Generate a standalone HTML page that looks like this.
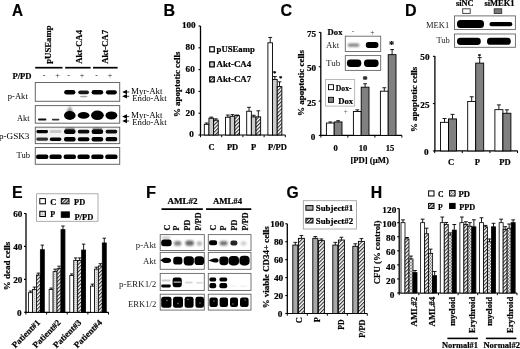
<!DOCTYPE html><html><head><meta charset="utf-8"><style>html,body{margin:0;padding:0;background:#fff;overflow:hidden}svg{display:block}text[font-weight=bold]{stroke:#000;stroke-width:0.2px}</style></head><body>
<svg width="520" height="349" viewBox="0 0 520 349" font-family='"Liberation Serif", serif'>
<defs>
<filter id="b03" x="-50%" y="-50%" width="200%" height="200%"><feGaussianBlur stdDeviation="0.3"/></filter>
<filter id="b05" x="-50%" y="-50%" width="200%" height="200%"><feGaussianBlur stdDeviation="0.5"/></filter>
<filter id="b06" x="-50%" y="-50%" width="200%" height="200%"><feGaussianBlur stdDeviation="0.6"/></filter>
<filter id="b08" x="-50%" y="-50%" width="200%" height="200%"><feGaussianBlur stdDeviation="0.8"/></filter>
<filter id="b10" x="-50%" y="-50%" width="200%" height="200%"><feGaussianBlur stdDeviation="1.0"/></filter>
<filter id="b12" x="-50%" y="-50%" width="200%" height="200%"><feGaussianBlur stdDeviation="1.2"/></filter>
<filter id="b15" x="-50%" y="-50%" width="200%" height="200%"><feGaussianBlur stdDeviation="1.5"/></filter>
<pattern id="hatch" patternUnits="userSpaceOnUse" width="2.6" height="2.6" patternTransform="rotate(45)"><rect width="2.6" height="2.6" fill="#fff"/><rect width="1.1" height="2.6" fill="#333"/></pattern>
<pattern id="hatchd" patternUnits="userSpaceOnUse" width="2.4" height="2.4" patternTransform="rotate(45)"><rect width="2.4" height="2.4" fill="#fff"/><rect width="1.2" height="2.4" fill="#222"/></pattern>
<pattern id="dots" patternUnits="userSpaceOnUse" width="2" height="2"><rect width="2" height="2" fill="#e2e2e2"/><rect width="1" height="1" fill="#b4b4b4"/></pattern>
<pattern id="circ" patternUnits="userSpaceOnUse" width="3" height="3"><rect width="3" height="3" fill="#fff"/><circle cx="1.5" cy="1.5" r="1" fill="none" stroke="#333" stroke-width="0.6"/></pattern>
<filter id="gblur" x="0" y="0" width="520" height="349" filterUnits="userSpaceOnUse"><feGaussianBlur stdDeviation="0.32"/></filter>
</defs>
<rect width="520" height="349" fill="#fff"/>
<g filter="url(#gblur)">
<text x="12.1" y="15.9" font-size="16" font-weight="bold" font-family='"Liberation Sans", sans-serif' textLength="11" lengthAdjust="spacingAndGlyphs">A</text>
<text x="51" y="63.8" font-size="7.9" font-weight="bold" transform="rotate(-90 51 63.8)" textLength="38.4" lengthAdjust="spacingAndGlyphs">pUSEamp</text>
<text x="81.8" y="63.8" font-size="7.9" font-weight="bold" transform="rotate(-90 81.8 63.8)" textLength="33.8" lengthAdjust="spacingAndGlyphs">Akt-CA4</text>
<text x="107.6" y="63.8" font-size="7.9" font-weight="bold" transform="rotate(-90 107.6 63.8)" textLength="33.8" lengthAdjust="spacingAndGlyphs">Akt-CA7</text>
<line x1="35.2" y1="67.7" x2="62.5" y2="67.7" stroke="#000" stroke-width="1.7"/>
<line x1="65.2" y1="67.7" x2="90.6" y2="67.7" stroke="#000" stroke-width="1.7"/>
<line x1="93" y1="67.7" x2="117.6" y2="67.7" stroke="#000" stroke-width="1.7"/>
<text x="12.4" y="78.6" font-size="8.4" font-weight="bold" textLength="19.1" lengthAdjust="spacingAndGlyphs">P/PD</text>
<text x="44.2" y="77.6" font-size="8" text-anchor="middle" fill="#222">-</text>
<text x="57.6" y="77.6" font-size="8" text-anchor="middle" fill="#222">+</text>
<text x="68.6" y="77.6" font-size="8" text-anchor="middle" fill="#222">-</text>
<text x="82" y="77.6" font-size="8" text-anchor="middle" fill="#222">+</text>
<text x="96.6" y="77.6" font-size="8" text-anchor="middle" fill="#222">-</text>
<text x="110" y="77.6" font-size="8" text-anchor="middle" fill="#222">+</text>
<rect x="35.3" y="82.5" width="84.4" height="18.8" fill="none" stroke="#666" stroke-width="1"/>
<rect x="35.3" y="105.6" width="84.4" height="17.6" fill="none" stroke="#666" stroke-width="1"/>
<rect x="35.3" y="127.2" width="84.4" height="16.4" fill="none" stroke="#666" stroke-width="1"/>
<rect x="35.3" y="147.5" width="84.4" height="16.8" fill="none" stroke="#666" stroke-width="1"/>
<text x="27.8" y="98.6" font-size="8.6" text-anchor="end" textLength="20" lengthAdjust="spacingAndGlyphs">p-Akt</text>
<text x="29.6" y="120.7" font-size="8.6" text-anchor="end" textLength="12.5" lengthAdjust="spacingAndGlyphs">Akt</text>
<text x="29.4" y="138.6" font-size="8.6" text-anchor="end" textLength="30.5" lengthAdjust="spacingAndGlyphs">p-GSK3</text>
<text x="30" y="158.2" font-size="8.6" text-anchor="end" textLength="13.4" lengthAdjust="spacingAndGlyphs">Tub</text>
<rect x="64.2" y="90" width="11.2" height="4.6" rx="2.3" fill="#000" fill-opacity="1" filter="url(#b05)"/>
<rect x="78.2" y="90.4" width="10.8" height="3.8" rx="1.9" fill="#000" fill-opacity="0.9" filter="url(#b05)"/>
<rect x="91.6" y="90" width="11.6" height="4.6" rx="2.3" fill="#000" fill-opacity="1" filter="url(#b05)"/>
<rect x="105.9" y="90.2" width="11" height="4.2" rx="2.1" fill="#000" fill-opacity="1" filter="url(#b05)"/>
<ellipse cx="83.6" cy="96.6" rx="4" ry="0.8" fill="#000" fill-opacity="0.35" filter="url(#b06)"/>
<rect x="38" y="118.6" width="8.4" height="2" rx="1" fill="#000" fill-opacity="0.95" filter="url(#b05)"/>
<rect x="51.8" y="118.8" width="7.6" height="1.6" rx="0.8" fill="#000" fill-opacity="0.8" filter="url(#b05)"/>
<ellipse cx="69.8" cy="115.4" rx="5.8" ry="4.5" fill="#000" fill-opacity="1" filter="url(#b06)"/>
<path d="M69.8 106.0 L66.2 112.5 L73.4 112.5 z" fill="#000" fill-opacity="0.45" filter="url(#b10)"/>
<ellipse cx="83.6" cy="115.4" rx="5.9" ry="3.3" fill="#000" fill-opacity="1" filter="url(#b05)"/>
<ellipse cx="97.4" cy="115.3" rx="6.4" ry="4.8" fill="#000" fill-opacity="1" filter="url(#b05)"/>
<ellipse cx="111.4" cy="115.4" rx="5.9" ry="4" fill="#000" fill-opacity="1" filter="url(#b05)"/>
<rect x="36.4" y="130" width="11.6" height="3.2" rx="1.45" fill="#000" fill-opacity="1" filter="url(#b05)"/>
<rect x="36.4" y="137.6" width="11.6" height="3.2" rx="1.45" fill="#000" fill-opacity="0.8" filter="url(#b05)"/>
<rect x="49.8" y="130.1" width="11.6" height="3" rx="1.36" fill="#000" fill-opacity="0.18" filter="url(#b05)"/>
<rect x="49.8" y="137.4" width="11.6" height="3.6" rx="1.64" fill="#000" fill-opacity="1" filter="url(#b05)"/>
<rect x="64" y="129.3" width="11.6" height="4.6" rx="2.09" fill="#000" fill-opacity="1" filter="url(#b05)"/>
<rect x="64" y="137" width="11.6" height="4.4" rx="2" fill="#000" fill-opacity="1" filter="url(#b05)"/>
<rect x="77.8" y="129.8" width="11.6" height="3.6" rx="1.64" fill="#000" fill-opacity="0.95" filter="url(#b05)"/>
<rect x="77.8" y="137.2" width="11.6" height="4" rx="1.82" fill="#000" fill-opacity="1" filter="url(#b05)"/>
<rect x="91.6" y="129.2" width="11.6" height="4.8" rx="2.18" fill="#000" fill-opacity="1" filter="url(#b05)"/>
<rect x="91.6" y="136.9" width="11.6" height="4.6" rx="2.09" fill="#000" fill-opacity="1" filter="url(#b05)"/>
<rect x="105.6" y="129.8" width="11.6" height="3.6" rx="1.64" fill="#000" fill-opacity="0.95" filter="url(#b05)"/>
<rect x="105.6" y="137.1" width="11.6" height="4.2" rx="1.91" fill="#000" fill-opacity="1" filter="url(#b05)"/>
<ellipse cx="69.8" cy="128.4" rx="5" ry="1" fill="#000" fill-opacity="0.35" filter="url(#b07)"/>
<ellipse cx="97.4" cy="128.4" rx="5" ry="1" fill="#000" fill-opacity="0.35" filter="url(#b07)"/>
<rect x="36" y="128" width="83" height="14" fill="#000" fill-opacity="0.05"/>
<rect x="36" y="154.5" width="12.4" height="4.6" rx="2.2" fill="#000" fill-opacity="1" filter="url(#b05)"/>
<rect x="49.4" y="154.5" width="12.4" height="4.6" rx="2.2" fill="#000" fill-opacity="1" filter="url(#b05)"/>
<rect x="63.6" y="154.5" width="12.4" height="4.6" rx="2.2" fill="#000" fill-opacity="1" filter="url(#b05)"/>
<rect x="77.4" y="154.5" width="12.4" height="4.6" rx="2.2" fill="#000" fill-opacity="1" filter="url(#b05)"/>
<rect x="91.2" y="154.5" width="12.4" height="4.6" rx="2.2" fill="#000" fill-opacity="1" filter="url(#b05)"/>
<rect x="105.2" y="154.5" width="12.4" height="4.6" rx="2.2" fill="#000" fill-opacity="1" filter="url(#b05)"/>
<path d="M122.2 92 l4.8 -2.3 v4.6 z" fill="#000"/>
<line x1="126.5" y1="92" x2="129.2" y2="92" stroke="#333" stroke-width="1"/>
<path d="M122.2 96.3 l4.8 -2.3 v4.6 z" fill="#000"/>
<line x1="126.5" y1="96.3" x2="129.2" y2="96.3" stroke="#333" stroke-width="1"/>
<path d="M122.2 116.6 l4.8 -2.3 v4.6 z" fill="#000"/>
<line x1="126.5" y1="116.6" x2="129.2" y2="116.6" stroke="#333" stroke-width="1"/>
<path d="M122.2 121 l4.8 -2.3 v4.6 z" fill="#000"/>
<line x1="126.5" y1="121" x2="129.2" y2="121" stroke="#333" stroke-width="1"/>
<text x="131" y="93.5" font-size="8.4" textLength="31.5" lengthAdjust="spacingAndGlyphs">Myr-Akt</text>
<text x="132.2" y="100.5" font-size="8.4" textLength="34.4" lengthAdjust="spacingAndGlyphs">Endo-Akt</text>
<text x="131" y="118" font-size="8.4" textLength="31.5" lengthAdjust="spacingAndGlyphs">Myr-Akt</text>
<text x="132.2" y="125" font-size="8.4" textLength="34.4" lengthAdjust="spacingAndGlyphs">Endo-Akt</text>
<text x="163.6" y="16.3" font-size="16" font-weight="bold" font-family='"Liberation Sans", sans-serif' textLength="11.6" lengthAdjust="spacingAndGlyphs">B</text>
<line x1="200.5" y1="26" x2="200.5" y2="135" stroke="#000" stroke-width="1.3"/>
<line x1="198.5" y1="135" x2="200.5" y2="135" stroke="#000" stroke-width="1.1"/>
<text x="193.9" y="137.35" font-size="8.2" font-weight="bold" text-anchor="end" textLength="4.59" lengthAdjust="spacingAndGlyphs">0</text>
<line x1="198.5" y1="113.2" x2="200.5" y2="113.2" stroke="#000" stroke-width="1.1"/>
<text x="194.8" y="115.55" font-size="8.2" font-weight="bold" text-anchor="end" textLength="9.18" lengthAdjust="spacingAndGlyphs">20</text>
<line x1="198.5" y1="91.4" x2="200.5" y2="91.4" stroke="#000" stroke-width="1.1"/>
<text x="194.8" y="93.75" font-size="8.2" font-weight="bold" text-anchor="end" textLength="9.18" lengthAdjust="spacingAndGlyphs">40</text>
<line x1="198.5" y1="69.6" x2="200.5" y2="69.6" stroke="#000" stroke-width="1.1"/>
<text x="194.8" y="71.95" font-size="8.2" font-weight="bold" text-anchor="end" textLength="9.18" lengthAdjust="spacingAndGlyphs">60</text>
<line x1="198.5" y1="47.8" x2="200.5" y2="47.8" stroke="#000" stroke-width="1.1"/>
<text x="194.8" y="50.15" font-size="8.2" font-weight="bold" text-anchor="end" textLength="9.18" lengthAdjust="spacingAndGlyphs">80</text>
<line x1="198.5" y1="26" x2="200.5" y2="26" stroke="#000" stroke-width="1.1"/>
<text x="195.7" y="28.35" font-size="8.2" font-weight="bold" text-anchor="end" textLength="13.78" lengthAdjust="spacingAndGlyphs">100</text>
<line x1="199.9" y1="135" x2="285.4" y2="135" stroke="#000" stroke-width="1.2"/>
<line x1="200.5" y1="135" x2="200.5" y2="137.2" stroke="#000" stroke-width="1"/>
<line x1="221.7" y1="135" x2="221.7" y2="137.2" stroke="#000" stroke-width="1"/>
<line x1="242.9" y1="135" x2="242.9" y2="137.2" stroke="#000" stroke-width="1"/>
<line x1="264.1" y1="135" x2="264.1" y2="137.2" stroke="#000" stroke-width="1"/>
<line x1="285.3" y1="135" x2="285.3" y2="137.2" stroke="#000" stroke-width="1"/>
<text x="179.9" y="84.3" font-size="8.6" font-weight="bold" text-anchor="middle" transform="rotate(-90 179.9 84.3)" textLength="65.6" lengthAdjust="spacingAndGlyphs">% apoptotic cells</text>
<rect x="204.3" y="124.32" width="4.65" height="10.68" fill="#fff" stroke="#000" stroke-width="0.9"/>
<line x1="206.62" y1="124.32" x2="206.62" y2="123.01" stroke="#000" stroke-width="0.9"/>
<line x1="204.72" y1="123.01" x2="208.52" y2="123.01" stroke="#000" stroke-width="0.9"/>
<rect x="208.95" y="118.21" width="4.65" height="16.79" fill="#cbcbcb" stroke="#000" stroke-width="0.9"/>
<line x1="211.27" y1="118.21" x2="211.27" y2="117.12" stroke="#000" stroke-width="0.9"/>
<line x1="209.37" y1="117.12" x2="213.17" y2="117.12" stroke="#000" stroke-width="0.9"/>
<rect x="213.6" y="120.18" width="4.65" height="14.82" fill="url(#hatch)" stroke="#000" stroke-width="0.9"/>
<line x1="215.92" y1="120.18" x2="215.92" y2="118.87" stroke="#000" stroke-width="0.9"/>
<line x1="214.02" y1="118.87" x2="217.82" y2="118.87" stroke="#000" stroke-width="0.9"/>
<rect x="225.5" y="117.23" width="4.65" height="17.77" fill="#fff" stroke="#000" stroke-width="0.9"/>
<line x1="227.82" y1="117.23" x2="227.82" y2="115.05" stroke="#000" stroke-width="0.9"/>
<line x1="225.92" y1="115.05" x2="229.72" y2="115.05" stroke="#000" stroke-width="0.9"/>
<rect x="230.15" y="116.25" width="4.65" height="18.75" fill="#cbcbcb" stroke="#000" stroke-width="0.9"/>
<line x1="232.47" y1="116.25" x2="232.47" y2="114.62" stroke="#000" stroke-width="0.9"/>
<line x1="230.57" y1="114.62" x2="234.37" y2="114.62" stroke="#000" stroke-width="0.9"/>
<rect x="234.8" y="115.6" width="4.65" height="19.4" fill="url(#hatch)" stroke="#000" stroke-width="0.9"/>
<line x1="237.12" y1="115.6" x2="237.12" y2="115.05" stroke="#000" stroke-width="0.9"/>
<line x1="235.22" y1="115.05" x2="239.02" y2="115.05" stroke="#000" stroke-width="0.9"/>
<rect x="246.7" y="111.24" width="4.65" height="23.76" fill="#fff" stroke="#000" stroke-width="0.9"/>
<line x1="249.02" y1="111.24" x2="249.02" y2="107.31" stroke="#000" stroke-width="0.9"/>
<line x1="247.12" y1="107.31" x2="250.92" y2="107.31" stroke="#000" stroke-width="0.9"/>
<rect x="251.35" y="116.91" width="4.65" height="18.09" fill="#cbcbcb" stroke="#000" stroke-width="0.9"/>
<line x1="253.67" y1="116.91" x2="253.67" y2="115.27" stroke="#000" stroke-width="0.9"/>
<line x1="251.77" y1="115.27" x2="255.57" y2="115.27" stroke="#000" stroke-width="0.9"/>
<rect x="256" y="116.91" width="4.65" height="18.09" fill="url(#hatch)" stroke="#000" stroke-width="0.9"/>
<line x1="258.32" y1="116.91" x2="258.32" y2="110.8" stroke="#000" stroke-width="0.9"/>
<line x1="256.42" y1="110.8" x2="260.22" y2="110.8" stroke="#000" stroke-width="0.9"/>
<rect x="267.9" y="42.79" width="4.65" height="92.21" fill="#fff" stroke="#000" stroke-width="0.9"/>
<line x1="270.22" y1="42.79" x2="270.22" y2="37.44" stroke="#000" stroke-width="0.9"/>
<line x1="268.32" y1="37.44" x2="272.12" y2="37.44" stroke="#000" stroke-width="0.9"/>
<rect x="272.55" y="79.41" width="4.65" height="55.59" fill="#cbcbcb" stroke="#000" stroke-width="0.9"/>
<line x1="274.87" y1="79.41" x2="274.87" y2="76.58" stroke="#000" stroke-width="0.9"/>
<line x1="272.97" y1="76.58" x2="276.77" y2="76.58" stroke="#000" stroke-width="0.9"/>
<rect x="277.2" y="86.6" width="4.65" height="48.4" fill="url(#hatch)" stroke="#000" stroke-width="0.9"/>
<line x1="279.52" y1="86.6" x2="279.52" y2="81.81" stroke="#000" stroke-width="0.9"/>
<line x1="277.62" y1="81.81" x2="281.42" y2="81.81" stroke="#000" stroke-width="0.9"/>
<text x="274.7" y="75.42" font-size="6.76" font-weight="bold" text-anchor="middle">*</text>
<text x="280.8" y="80.22" font-size="6.76" font-weight="bold" text-anchor="middle">*</text>
<rect x="209.7" y="46.8" width="4.6" height="5" fill="#fff" stroke="#000" stroke-width="1.2"/>
<text x="216.6" y="51.9" font-size="8.4" font-weight="bold" textLength="38.2" lengthAdjust="spacingAndGlyphs">pUSEamp</text>
<rect x="209.7" y="61.9" width="4.6" height="5" fill="#cbcbcb" stroke="#000" stroke-width="1.2"/>
<text x="216.6" y="67" font-size="8.4" font-weight="bold" textLength="34.6" lengthAdjust="spacingAndGlyphs">Akt-CA4</text>
<rect x="209.7" y="76.9" width="4.6" height="5" fill="url(#hatch)" stroke="#000" stroke-width="1.2"/>
<text x="216.6" y="82" font-size="8.4" font-weight="bold" textLength="34.6" lengthAdjust="spacingAndGlyphs">Akt-CA7</text>
<text x="211.6" y="149.6" font-size="8.5" font-weight="bold" text-anchor="middle">C</text>
<text x="232.6" y="149.6" font-size="8.5" font-weight="bold" text-anchor="middle">PD</text>
<text x="253.5" y="149.6" font-size="8.5" font-weight="bold" text-anchor="middle">P</text>
<text x="277.5" y="149.6" font-size="8.5" font-weight="bold" text-anchor="middle">P/PD</text>
<text x="280.4" y="16.3" font-size="16" font-weight="bold" font-family='"Liberation Sans", sans-serif' textLength="11.6" lengthAdjust="spacingAndGlyphs">C</text>
<line x1="320.8" y1="32.2" x2="320.8" y2="135.4" stroke="#000" stroke-width="1.3"/>
<line x1="318.8" y1="135.4" x2="320.8" y2="135.4" stroke="#000" stroke-width="1.1"/>
<text x="315.3" y="140.15" font-size="8.2" font-weight="bold" text-anchor="end" textLength="4.59" lengthAdjust="spacingAndGlyphs">0</text>
<line x1="318.8" y1="101.07" x2="320.8" y2="101.07" stroke="#000" stroke-width="1.1"/>
<text x="316.2" y="105.81" font-size="8.2" font-weight="bold" text-anchor="end" textLength="9.18" lengthAdjust="spacingAndGlyphs">25</text>
<line x1="318.8" y1="66.74" x2="320.8" y2="66.74" stroke="#000" stroke-width="1.1"/>
<text x="316.2" y="71.48" font-size="8.2" font-weight="bold" text-anchor="end" textLength="9.18" lengthAdjust="spacingAndGlyphs">50</text>
<line x1="318.8" y1="32.4" x2="320.8" y2="32.4" stroke="#000" stroke-width="1.1"/>
<text x="316.2" y="37.15" font-size="8.2" font-weight="bold" text-anchor="end" textLength="9.18" lengthAdjust="spacingAndGlyphs">75</text>
<line x1="320.3" y1="135.4" x2="401.9" y2="135.4" stroke="#000" stroke-width="1.2"/>
<line x1="320.9" y1="135.4" x2="320.9" y2="137.6" stroke="#000" stroke-width="1"/>
<line x1="347.9" y1="135.4" x2="347.9" y2="137.6" stroke="#000" stroke-width="1"/>
<line x1="374.9" y1="135.4" x2="374.9" y2="137.6" stroke="#000" stroke-width="1"/>
<line x1="401.9" y1="135.4" x2="401.9" y2="137.6" stroke="#000" stroke-width="1"/>
<text x="303.6" y="82.9" font-size="8.6" font-weight="bold" text-anchor="middle" transform="rotate(-90 303.6 82.9)" textLength="66" lengthAdjust="spacingAndGlyphs">% apoptotic cells</text>
<rect x="326.4" y="123.04" width="7.8" height="12.36" fill="#fff" stroke="#000" stroke-width="0.9"/>
<line x1="330.3" y1="123.04" x2="330.3" y2="121.94" stroke="#000" stroke-width="0.9"/>
<line x1="328.4" y1="121.94" x2="332.2" y2="121.94" stroke="#000" stroke-width="0.9"/>
<rect x="334.2" y="121.94" width="7.8" height="13.46" fill="#808080" stroke="#000" stroke-width="0.9"/>
<line x1="338.1" y1="121.94" x2="338.1" y2="120.71" stroke="#000" stroke-width="0.9"/>
<line x1="336.2" y1="120.71" x2="340" y2="120.71" stroke="#000" stroke-width="0.9"/>
<rect x="353.4" y="111.5" width="7.8" height="23.9" fill="#fff" stroke="#000" stroke-width="0.9"/>
<line x1="357.3" y1="111.5" x2="357.3" y2="109.86" stroke="#000" stroke-width="0.9"/>
<line x1="355.4" y1="109.86" x2="359.2" y2="109.86" stroke="#000" stroke-width="0.9"/>
<rect x="361.2" y="87.2" width="7.8" height="48.2" fill="#808080" stroke="#000" stroke-width="0.9"/>
<line x1="365.1" y1="87.2" x2="365.1" y2="83.76" stroke="#000" stroke-width="0.9"/>
<line x1="363.2" y1="83.76" x2="367" y2="83.76" stroke="#000" stroke-width="0.9"/>
<rect x="380.4" y="91.18" width="7.8" height="44.22" fill="#fff" stroke="#000" stroke-width="0.9"/>
<line x1="384.3" y1="91.18" x2="384.3" y2="87.75" stroke="#000" stroke-width="0.9"/>
<line x1="382.4" y1="87.75" x2="386.2" y2="87.75" stroke="#000" stroke-width="0.9"/>
<rect x="388.2" y="54.65" width="7.8" height="80.75" fill="#808080" stroke="#000" stroke-width="0.9"/>
<line x1="392.1" y1="54.65" x2="392.1" y2="49.57" stroke="#000" stroke-width="0.9"/>
<line x1="390.2" y1="49.57" x2="394" y2="49.57" stroke="#000" stroke-width="0.9"/>
<text x="365.1" y="82.56" font-size="10.4" font-weight="bold" text-anchor="middle">*</text>
<text x="391.5" y="47.96" font-size="10.4" font-weight="bold" text-anchor="middle">*</text>
<text x="345.6" y="114" font-size="7.6" text-anchor="middle" fill="#666">+</text>
<rect x="325.5" y="79.6" width="29.2" height="26.5" fill="#fff" stroke="#aaa" stroke-width="0.8"/>
<rect x="328.5" y="84.7" width="5" height="5" fill="#fff" stroke="#000" stroke-width="0.9"/>
<rect x="328.5" y="97.3" width="5" height="5" fill="#808080" stroke="#000" stroke-width="0.9"/>
<text x="335.8" y="90.6" font-size="8.6" font-weight="bold" textLength="15.8" lengthAdjust="spacingAndGlyphs">Dox-</text>
<text x="338.2" y="103.9" font-size="8.6" font-weight="bold" textLength="15" lengthAdjust="spacingAndGlyphs">Dox</text>
<text x="327.6" y="34.6" font-size="8.6" font-weight="bold" textLength="14.9" lengthAdjust="spacingAndGlyphs">Dox</text>
<text x="353.1" y="34.2" font-size="7.5" text-anchor="middle" fill="#333">-</text>
<text x="372.3" y="34.6" font-size="7.5" text-anchor="middle" fill="#333">+</text>
<rect x="345.3" y="36.2" width="35.4" height="15.3" fill="none" stroke="#666" stroke-width="0.9"/>
<rect x="345.3" y="55.6" width="35.4" height="14.8" fill="none" stroke="#666" stroke-width="0.9"/>
<text x="326" y="47.7" font-size="8.6" textLength="13.2" lengthAdjust="spacingAndGlyphs" fill="#222">Akt</text>
<text x="326" y="65.8" font-size="8.6" textLength="14.2" lengthAdjust="spacingAndGlyphs" fill="#222">Tub</text>
<rect x="347.8" y="43.4" width="11.6" height="3.4" rx="1.6" fill="#000" fill-opacity="0.5" filter="url(#b08)"/>
<rect x="365.8" y="42.1" width="12.6" height="5.8" rx="2.6" fill="#000" fill-opacity="1" filter="url(#b06)"/>
<rect x="346.9" y="59.4" width="14.4" height="7.6" rx="3.4" fill="#000" fill-opacity="1" filter="url(#b06)"/>
<rect x="364" y="59.4" width="14.6" height="7.6" rx="3.4" fill="#000" fill-opacity="1" filter="url(#b06)"/>
<text x="335.6" y="150.8" font-size="8.6" font-weight="bold" text-anchor="middle">0</text>
<text x="363.1" y="150.8" font-size="8.6" font-weight="bold" text-anchor="middle">10</text>
<text x="390" y="150.8" font-size="8.6" font-weight="bold" text-anchor="middle">15</text>
<text x="369.6" y="162.6" font-size="8.6" font-weight="bold" text-anchor="middle" textLength="38.4" lengthAdjust="spacingAndGlyphs">[PD] (µM)</text>
<text x="405" y="15.9" font-size="16" font-weight="bold" font-family='"Liberation Sans", sans-serif' textLength="11.6" lengthAdjust="spacingAndGlyphs">D</text>
<text x="456" y="6.2" font-size="8.3" font-weight="bold" textLength="17.6" lengthAdjust="spacingAndGlyphs">siNC</text>
<text x="484.4" y="6.2" font-size="8.3" font-weight="bold" textLength="30.2" lengthAdjust="spacingAndGlyphs">siMEK1</text>
<rect x="462.7" y="8.8" width="7.5" height="4.6" fill="#fff" stroke="#333" stroke-width="0.9"/>
<rect x="494.2" y="8.8" width="7.5" height="4.6" fill="#777" stroke="#333" stroke-width="0.9"/>
<rect x="454.5" y="15.9" width="60.9" height="13.7" fill="none" stroke="#666" stroke-width="0.9"/>
<rect x="454.5" y="34" width="60.9" height="13.3" fill="none" stroke="#666" stroke-width="0.9"/>
<text x="449.2" y="28.4" font-size="8.6" text-anchor="end" textLength="23.2" lengthAdjust="spacingAndGlyphs" fill="#222">MEK1</text>
<text x="449.9" y="43" font-size="8.6" text-anchor="end" textLength="13.5" lengthAdjust="spacingAndGlyphs" fill="#222">Tub</text>
<rect x="457" y="20" width="27" height="8" rx="3.5" fill="#000" fill-opacity="1" filter="url(#b06)"/>
<rect x="489.5" y="22" width="22.8" height="4.2" rx="2" fill="#000" fill-opacity="1" filter="url(#b06)"/>
<rect x="457" y="37.8" width="23.8" height="7.2" rx="3.4" fill="#000" fill-opacity="1" filter="url(#b06)"/>
<rect x="487" y="37.8" width="23.8" height="7" rx="3.4" fill="#000" fill-opacity="1" filter="url(#b06)"/>
<line x1="434.9" y1="56" x2="434.9" y2="150.9" stroke="#000" stroke-width="1.3"/>
<line x1="432.9" y1="150.9" x2="434.9" y2="150.9" stroke="#000" stroke-width="1.1"/>
<text x="428.6" y="154.85" font-size="8.2" font-weight="bold" text-anchor="end" textLength="4.59" lengthAdjust="spacingAndGlyphs">0</text>
<line x1="432.9" y1="103.6" x2="434.9" y2="103.6" stroke="#000" stroke-width="1.1"/>
<text x="429.5" y="107.55" font-size="8.2" font-weight="bold" text-anchor="end" textLength="9.18" lengthAdjust="spacingAndGlyphs">25</text>
<line x1="432.9" y1="56.3" x2="434.9" y2="56.3" stroke="#000" stroke-width="1.1"/>
<text x="429.5" y="60.25" font-size="8.2" font-weight="bold" text-anchor="end" textLength="9.18" lengthAdjust="spacingAndGlyphs">50</text>
<line x1="434.1" y1="150.9" x2="517.7" y2="150.9" stroke="#000" stroke-width="1.2"/>
<line x1="434.7" y1="150.9" x2="434.7" y2="153.1" stroke="#000" stroke-width="1"/>
<line x1="462.3" y1="150.9" x2="462.3" y2="153.1" stroke="#000" stroke-width="1"/>
<line x1="489.9" y1="150.9" x2="489.9" y2="153.1" stroke="#000" stroke-width="1"/>
<line x1="517.5" y1="150.9" x2="517.5" y2="153.1" stroke="#000" stroke-width="1"/>
<text x="417.2" y="99.4" font-size="8.6" font-weight="bold" text-anchor="middle" transform="rotate(-90 417.2 99.4)" textLength="65.4" lengthAdjust="spacingAndGlyphs">% apoptotic cells</text>
<rect x="440.5" y="122.33" width="8" height="28.57" fill="#fff" stroke="#000" stroke-width="0.9"/>
<line x1="444.5" y1="122.33" x2="444.5" y2="118.55" stroke="#000" stroke-width="0.9"/>
<line x1="442.5" y1="118.55" x2="446.5" y2="118.55" stroke="#000" stroke-width="0.9"/>
<rect x="448.5" y="118.93" width="8" height="31.97" fill="#808080" stroke="#000" stroke-width="0.9"/>
<line x1="452.5" y1="118.93" x2="452.5" y2="114.38" stroke="#000" stroke-width="0.9"/>
<line x1="450.5" y1="114.38" x2="454.5" y2="114.38" stroke="#000" stroke-width="0.9"/>
<rect x="467.7" y="101.52" width="8" height="49.38" fill="#fff" stroke="#000" stroke-width="0.9"/>
<line x1="471.7" y1="101.52" x2="471.7" y2="96.79" stroke="#000" stroke-width="0.9"/>
<line x1="469.7" y1="96.79" x2="473.7" y2="96.79" stroke="#000" stroke-width="0.9"/>
<rect x="475.7" y="63.11" width="8" height="87.79" fill="#808080" stroke="#000" stroke-width="0.9"/>
<line x1="479.7" y1="63.11" x2="479.7" y2="57.62" stroke="#000" stroke-width="0.9"/>
<line x1="477.7" y1="57.62" x2="481.7" y2="57.62" stroke="#000" stroke-width="0.9"/>
<rect x="494.9" y="109.65" width="8" height="41.25" fill="#fff" stroke="#000" stroke-width="0.9"/>
<line x1="498.9" y1="109.65" x2="498.9" y2="104.92" stroke="#000" stroke-width="0.9"/>
<line x1="496.9" y1="104.92" x2="500.9" y2="104.92" stroke="#000" stroke-width="0.9"/>
<rect x="502.9" y="113.25" width="8" height="37.65" fill="#808080" stroke="#000" stroke-width="0.9"/>
<line x1="506.9" y1="113.25" x2="506.9" y2="109.84" stroke="#000" stroke-width="0.9"/>
<line x1="504.9" y1="109.84" x2="508.9" y2="109.84" stroke="#000" stroke-width="0.9"/>
<text x="479.4" y="58.19" font-size="5.85" font-weight="bold" text-anchor="middle">*</text>
<text x="451.2" y="165.3" font-size="8.6" font-weight="bold" text-anchor="middle">C</text>
<text x="477.3" y="165.3" font-size="8.6" font-weight="bold" text-anchor="middle">P</text>
<text x="505" y="165.3" font-size="8.6" font-weight="bold" text-anchor="middle">PD</text>
<text x="12.1" y="198.3" font-size="16" font-weight="bold" font-family='"Liberation Sans", sans-serif' textLength="10.6" lengthAdjust="spacingAndGlyphs">E</text>
<line x1="26" y1="213.3" x2="26" y2="312.3" stroke="#000" stroke-width="1.3"/>
<line x1="24" y1="312.3" x2="26" y2="312.3" stroke="#000" stroke-width="1.1"/>
<text x="21.5" y="315.75" font-size="8.2" font-weight="bold" text-anchor="end" textLength="4.59" lengthAdjust="spacingAndGlyphs">0</text>
<line x1="24" y1="279.36" x2="26" y2="279.36" stroke="#000" stroke-width="1.1"/>
<text x="22.4" y="282.81" font-size="8.2" font-weight="bold" text-anchor="end" textLength="9.18" lengthAdjust="spacingAndGlyphs">20</text>
<line x1="24" y1="246.42" x2="26" y2="246.42" stroke="#000" stroke-width="1.1"/>
<text x="22.4" y="249.87" font-size="8.2" font-weight="bold" text-anchor="end" textLength="9.18" lengthAdjust="spacingAndGlyphs">40</text>
<line x1="24" y1="213.48" x2="26" y2="213.48" stroke="#000" stroke-width="1.1"/>
<text x="22.4" y="216.93" font-size="8.2" font-weight="bold" text-anchor="end" textLength="9.18" lengthAdjust="spacingAndGlyphs">60</text>
<line x1="25.3" y1="312.3" x2="108.5" y2="312.3" stroke="#000" stroke-width="1.2"/>
<line x1="25.9" y1="312.3" x2="25.9" y2="314.5" stroke="#000" stroke-width="1"/>
<line x1="46.55" y1="312.3" x2="46.55" y2="314.5" stroke="#000" stroke-width="1"/>
<line x1="67.2" y1="312.3" x2="67.2" y2="314.5" stroke="#000" stroke-width="1"/>
<line x1="87.85" y1="312.3" x2="87.85" y2="314.5" stroke="#000" stroke-width="1"/>
<line x1="108.5" y1="312.3" x2="108.5" y2="314.5" stroke="#000" stroke-width="1"/>
<text x="9.9" y="266" font-size="8.6" font-weight="bold" text-anchor="middle" transform="rotate(-90 9.9 266)" textLength="48.3" lengthAdjust="spacingAndGlyphs">% dead cells</text>
<rect x="28.5" y="292.7" width="3.95" height="19.6" fill="#fff" stroke="#000" stroke-width="0.8"/>
<line x1="30.47" y1="292.7" x2="30.47" y2="291.05" stroke="#000" stroke-width="0.9"/>
<line x1="28.77" y1="291.05" x2="32.17" y2="291.05" stroke="#000" stroke-width="0.9"/>
<rect x="32.45" y="289.57" width="3.95" height="22.73" fill="url(#dots)" stroke="#000" stroke-width="0.8"/>
<line x1="34.42" y1="289.57" x2="34.42" y2="287.1" stroke="#000" stroke-width="0.9"/>
<line x1="32.72" y1="287.1" x2="36.12" y2="287.1" stroke="#000" stroke-width="0.9"/>
<rect x="36.4" y="275.08" width="3.95" height="37.22" fill="url(#hatch)" stroke="#000" stroke-width="0.8"/>
<line x1="38.37" y1="275.08" x2="38.37" y2="273.1" stroke="#000" stroke-width="0.9"/>
<line x1="36.67" y1="273.1" x2="40.07" y2="273.1" stroke="#000" stroke-width="0.9"/>
<rect x="40.35" y="249.71" width="3.95" height="62.59" fill="#000" stroke="#000" stroke-width="0.8"/>
<line x1="42.32" y1="249.71" x2="42.32" y2="245.1" stroke="#000" stroke-width="0.9"/>
<line x1="40.62" y1="245.1" x2="44.02" y2="245.1" stroke="#000" stroke-width="0.9"/>
<rect x="49.15" y="289.57" width="3.95" height="22.73" fill="#fff" stroke="#000" stroke-width="0.8"/>
<line x1="51.12" y1="289.57" x2="51.12" y2="288.09" stroke="#000" stroke-width="0.9"/>
<line x1="49.42" y1="288.09" x2="52.82" y2="288.09" stroke="#000" stroke-width="0.9"/>
<rect x="53.1" y="271.62" width="3.95" height="40.68" fill="url(#dots)" stroke="#000" stroke-width="0.8"/>
<line x1="55.07" y1="271.62" x2="55.07" y2="269.15" stroke="#000" stroke-width="0.9"/>
<line x1="53.37" y1="269.15" x2="56.77" y2="269.15" stroke="#000" stroke-width="0.9"/>
<rect x="57.05" y="268.65" width="3.95" height="43.65" fill="url(#hatch)" stroke="#000" stroke-width="0.8"/>
<line x1="59.02" y1="268.65" x2="59.02" y2="266.18" stroke="#000" stroke-width="0.9"/>
<line x1="57.32" y1="266.18" x2="60.72" y2="266.18" stroke="#000" stroke-width="0.9"/>
<rect x="61" y="229.62" width="3.95" height="82.68" fill="#000" stroke="#000" stroke-width="0.8"/>
<line x1="62.97" y1="229.62" x2="62.97" y2="226" stroke="#000" stroke-width="0.9"/>
<line x1="61.27" y1="226" x2="64.67" y2="226" stroke="#000" stroke-width="0.9"/>
<rect x="69.8" y="275.57" width="3.95" height="36.73" fill="#fff" stroke="#000" stroke-width="0.8"/>
<line x1="71.77" y1="275.57" x2="71.77" y2="273.92" stroke="#000" stroke-width="0.9"/>
<line x1="70.07" y1="273.92" x2="73.47" y2="273.92" stroke="#000" stroke-width="0.9"/>
<rect x="73.75" y="260.42" width="3.95" height="51.88" fill="url(#dots)" stroke="#000" stroke-width="0.8"/>
<line x1="75.72" y1="260.42" x2="75.72" y2="257.95" stroke="#000" stroke-width="0.9"/>
<line x1="74.02" y1="257.95" x2="77.42" y2="257.95" stroke="#000" stroke-width="0.9"/>
<rect x="77.7" y="260.42" width="3.95" height="51.88" fill="url(#hatch)" stroke="#000" stroke-width="0.8"/>
<line x1="79.67" y1="260.42" x2="79.67" y2="257.95" stroke="#000" stroke-width="0.9"/>
<line x1="77.97" y1="257.95" x2="81.37" y2="257.95" stroke="#000" stroke-width="0.9"/>
<rect x="81.65" y="250.04" width="3.95" height="62.26" fill="#000" stroke="#000" stroke-width="0.8"/>
<line x1="83.62" y1="250.04" x2="83.62" y2="244.11" stroke="#000" stroke-width="0.9"/>
<line x1="81.92" y1="244.11" x2="85.32" y2="244.11" stroke="#000" stroke-width="0.9"/>
<rect x="90.45" y="286.11" width="3.95" height="26.19" fill="#fff" stroke="#000" stroke-width="0.8"/>
<line x1="92.42" y1="286.11" x2="92.42" y2="284.14" stroke="#000" stroke-width="0.9"/>
<line x1="90.72" y1="284.14" x2="94.12" y2="284.14" stroke="#000" stroke-width="0.9"/>
<rect x="94.4" y="269.15" width="3.95" height="43.15" fill="url(#dots)" stroke="#000" stroke-width="0.8"/>
<line x1="96.37" y1="269.15" x2="96.37" y2="267.17" stroke="#000" stroke-width="0.9"/>
<line x1="94.67" y1="267.17" x2="98.07" y2="267.17" stroke="#000" stroke-width="0.9"/>
<rect x="98.35" y="266.02" width="3.95" height="46.28" fill="url(#hatch)" stroke="#000" stroke-width="0.8"/>
<line x1="100.32" y1="266.02" x2="100.32" y2="263.71" stroke="#000" stroke-width="0.9"/>
<line x1="98.62" y1="263.71" x2="102.02" y2="263.71" stroke="#000" stroke-width="0.9"/>
<rect x="102.3" y="242.96" width="3.95" height="69.34" fill="#000" stroke="#000" stroke-width="0.8"/>
<line x1="104.27" y1="242.96" x2="104.27" y2="238.19" stroke="#000" stroke-width="0.9"/>
<line x1="102.57" y1="238.19" x2="105.97" y2="238.19" stroke="#000" stroke-width="0.9"/>
<text x="40.6" y="323.2" font-size="8.6" font-weight="bold" text-anchor="end" transform="rotate(-45 40.6 323.2)" textLength="35.8" lengthAdjust="spacingAndGlyphs">Patient#1</text>
<text x="61.25" y="323.2" font-size="8.6" font-weight="bold" text-anchor="end" transform="rotate(-45 61.25 323.2)" textLength="35.8" lengthAdjust="spacingAndGlyphs">Patient#2</text>
<text x="81.9" y="323.2" font-size="8.6" font-weight="bold" text-anchor="end" transform="rotate(-45 81.9 323.2)" textLength="35.8" lengthAdjust="spacingAndGlyphs">Patient#3</text>
<text x="102.55" y="323.2" font-size="8.6" font-weight="bold" text-anchor="end" transform="rotate(-45 102.55 323.2)" textLength="35.8" lengthAdjust="spacingAndGlyphs">Patient#4</text>
<rect x="36.6" y="193.8" width="61.4" height="27.5" fill="#fff" stroke="#999" stroke-width="0.8"/>
<rect x="39.8" y="198.6" width="5.6" height="5.2" fill="#fff" stroke="#000" stroke-width="1"/>
<rect x="39.8" y="211.3" width="5.6" height="5.2" fill="url(#dots)" stroke="#000" stroke-width="1"/>
<rect x="61.3" y="198.6" width="7.7" height="5.2" fill="url(#hatchd)" stroke="#000" stroke-width="1"/>
<rect x="61.3" y="211.9" width="8" height="5.4" fill="#000" stroke="#000" stroke-width="1"/>
<text x="50.2" y="204.7" font-size="8.6" font-weight="bold" textLength="6" lengthAdjust="spacingAndGlyphs">C</text>
<text x="50.2" y="217.3" font-size="8.6" font-weight="bold" textLength="4.9" lengthAdjust="spacingAndGlyphs">P</text>
<text x="74.1" y="204.7" font-size="8.6" font-weight="bold" textLength="11.1" lengthAdjust="spacingAndGlyphs">PD</text>
<text x="74.4" y="219.6" font-size="8.6" font-weight="bold" textLength="18.9" lengthAdjust="spacingAndGlyphs">P/PD</text>
<text x="146" y="198.3" font-size="16" font-weight="bold" font-family='"Liberation Sans", sans-serif' textLength="10" lengthAdjust="spacingAndGlyphs">F</text>
<text x="167.5" y="204.2" font-size="8" font-weight="bold" textLength="30.1" lengthAdjust="spacingAndGlyphs">AML#2</text>
<text x="212.9" y="204.2" font-size="8" font-weight="bold" textLength="29.2" lengthAdjust="spacingAndGlyphs">AML#4</text>
<line x1="161.5" y1="209.1" x2="202.8" y2="209.1" stroke="#000" stroke-width="1.7"/>
<line x1="206" y1="209.1" x2="251.3" y2="209.1" stroke="#000" stroke-width="1.7"/>
<text x="169.6" y="230.6" font-size="8.2" font-weight="bold" transform="rotate(-90 169.6 230.6)">C</text>
<text x="179.4" y="230.6" font-size="8.2" font-weight="bold" transform="rotate(-90 179.4 230.6)">P</text>
<text x="190.2" y="230.6" font-size="8.2" font-weight="bold" transform="rotate(-90 190.2 230.6)">PD</text>
<text x="201.4" y="230.6" font-size="8.2" font-weight="bold" transform="rotate(-90 201.4 230.6)">P/PD</text>
<text x="215.8" y="230.6" font-size="8.2" font-weight="bold" transform="rotate(-90 215.8 230.6)">C</text>
<text x="226.1" y="230.6" font-size="8.2" font-weight="bold" transform="rotate(-90 226.1 230.6)">P</text>
<text x="237" y="230.6" font-size="8.2" font-weight="bold" transform="rotate(-90 237 230.6)">PD</text>
<text x="247.6" y="230.6" font-size="8.2" font-weight="bold" transform="rotate(-90 247.6 230.6)">P/PD</text>
<rect x="160.2" y="234.6" width="44.1" height="15.9" fill="none" stroke="#666" stroke-width="0.9"/>
<rect x="208.3" y="234.6" width="42.7" height="15.9" fill="none" stroke="#666" stroke-width="0.9"/>
<rect x="160.2" y="252.4" width="44.1" height="16.9" fill="none" stroke="#666" stroke-width="0.9"/>
<rect x="208.3" y="252.4" width="42.7" height="16.9" fill="none" stroke="#666" stroke-width="0.9"/>
<rect x="160.2" y="273.4" width="44.1" height="17.1" fill="none" stroke="#666" stroke-width="0.9"/>
<rect x="208.3" y="273.4" width="42.7" height="17.1" fill="none" stroke="#666" stroke-width="0.9"/>
<rect x="160.2" y="294.2" width="44.1" height="15.9" fill="none" stroke="#666" stroke-width="0.9"/>
<rect x="208.3" y="294.2" width="42.7" height="15.9" fill="none" stroke="#666" stroke-width="0.9"/>
<text x="156.2" y="248.3" font-size="8.8" text-anchor="end" textLength="20.4" lengthAdjust="spacingAndGlyphs" fill="#222">p-Akt</text>
<text x="156.2" y="264.3" font-size="8.8" text-anchor="end" textLength="13.2" lengthAdjust="spacingAndGlyphs" fill="#222">Akt</text>
<text x="156.2" y="287.3" font-size="8.8" text-anchor="end" textLength="37.2" lengthAdjust="spacingAndGlyphs" fill="#222">p-ERK1/2</text>
<text x="156.2" y="306.9" font-size="8.8" text-anchor="end" textLength="28.2" lengthAdjust="spacingAndGlyphs" fill="#222">ERK1/2</text>
<rect x="161.2" y="239.6" width="10.4" height="6.6" rx="2.6" fill="#000" fill-opacity="1" filter="url(#b06)"/>
<ellipse cx="166.2" cy="237.8" rx="4.5" ry="1.2" fill="#000" fill-opacity="0.25" filter="url(#b08)"/>
<rect x="174" y="241" width="7.4" height="4.8" rx="2.2" fill="#000" fill-opacity="0.5" filter="url(#b08)"/>
<rect x="185.4" y="240.4" width="8.5" height="5.4" rx="2.4" fill="#000" fill-opacity="0.6" filter="url(#b08)"/>
<rect x="196.8" y="241.2" width="5.2" height="4.6" rx="2" fill="#000" fill-opacity="0.3" filter="url(#b08)"/>
<rect x="209" y="240.2" width="8.2" height="5" rx="2.3" fill="#000" fill-opacity="1" filter="url(#b06)"/>
<rect x="219.6" y="241" width="8" height="4.4" rx="2" fill="#000" fill-opacity="0.55" filter="url(#b08)"/>
<rect x="230.4" y="240.6" width="7" height="4.8" rx="2.2" fill="#000" fill-opacity="0.85" filter="url(#b07)"/>
<rect x="240.6" y="241.4" width="5.8" height="4" rx="1.8" fill="#000" fill-opacity="0.2" filter="url(#b08)"/>
<path d="M160.2 260.2 L162.6 258.8 C163.4 257.2, 171.2 257.2, 171.2 260.4 C171.2 263.6, 163.4 263.6, 162.6 261.8 z" fill="#000" filter="url(#b05)"/>
<rect x="173.2" y="256.8" width="9.2" height="7.8" rx="3.2" fill="#000" fill-opacity="1" filter="url(#b05)"/>
<rect x="183.7" y="256.2" width="10.2" height="9.2" rx="3.6" fill="#000" fill-opacity="1" filter="url(#b05)"/>
<rect x="194.4" y="256.2" width="9.8" height="8.8" rx="3.6" fill="#000" fill-opacity="1" filter="url(#b05)"/>
<path d="M208.4 260.4 L212 259.0 C214 257.8, 218.6 257.8, 218.6 260.4 C218.6 263.0, 214 263.0, 212 261.8 z" fill="#000" filter="url(#b05)"/>
<rect x="219.4" y="256.4" width="9" height="8.8" rx="3.4" fill="#000" fill-opacity="1" filter="url(#b05)"/>
<rect x="228.6" y="256" width="10.4" height="9.4" rx="3.8" fill="#000" fill-opacity="1" filter="url(#b05)"/>
<rect x="239.4" y="255.8" width="10.2" height="9.6" rx="3.8" fill="#000" fill-opacity="1" filter="url(#b05)"/>
<rect x="161.6" y="279.6" width="9" height="1.8" rx="0.9" fill="#000" fill-opacity="0.2" filter="url(#b07)"/>
<rect x="161.2" y="284.6" width="9.6" height="2.8" rx="1.3" fill="#000" fill-opacity="1" filter="url(#b05)"/>
<rect x="172.6" y="277.6" width="9.2" height="9.6" rx="2.4" fill="#000" fill-opacity="1" filter="url(#b05)"/>
<rect x="173.6" y="281.5" width="7.2" height="1.3" fill="#fff" fill-opacity="0.7" filter="url(#b05)"/>
<rect x="184.8" y="281.4" width="8" height="2.2" rx="1" fill="#000" fill-opacity="0.15" filter="url(#b07)"/>
<rect x="196" y="281.8" width="7" height="2" rx="1" fill="#000" fill-opacity="0.12" filter="url(#b07)"/>
<rect x="209.4" y="277.4" width="6.8" height="4" rx="1.6" fill="#000" fill-opacity="1" filter="url(#b05)"/>
<rect x="209.4" y="283" width="6.8" height="5.2" rx="2" fill="#000" fill-opacity="1" filter="url(#b05)"/>
<rect x="219.4" y="277.4" width="7.8" height="4" rx="1.6" fill="#000" fill-opacity="1" filter="url(#b05)"/>
<rect x="219.4" y="283" width="7.8" height="5.2" rx="2" fill="#000" fill-opacity="1" filter="url(#b05)"/>
<rect x="230.5" y="285.4" width="6" height="1.6" rx="0.8" fill="#000" fill-opacity="0.05" filter="url(#b07)"/>
<rect x="240.5" y="285.4" width="6" height="1.6" rx="0.8" fill="#000" fill-opacity="0.06" filter="url(#b07)"/>
<rect x="161.2" y="296.8" width="10.3" height="11" rx="2.4" fill="#000" fill-opacity="1" filter="url(#b05)"/>
<rect x="173" y="296.8" width="10" height="11" rx="2.4" fill="#000" fill-opacity="1" filter="url(#b05)"/>
<rect x="184.6" y="296.8" width="9" height="11" rx="2.4" fill="#000" fill-opacity="1" filter="url(#b05)"/>
<rect x="195.4" y="296.8" width="8.6" height="11" rx="2.4" fill="#000" fill-opacity="1" filter="url(#b05)"/>
<rect x="209.4" y="297.6" width="8.4" height="9.4" rx="2.2" fill="#000" fill-opacity="1" filter="url(#b05)"/>
<rect x="219.6" y="297.6" width="8.4" height="9.4" rx="2.2" fill="#000" fill-opacity="1" filter="url(#b05)"/>
<rect x="230" y="297.6" width="8" height="9.4" rx="2.2" fill="#000" fill-opacity="1" filter="url(#b05)"/>
<rect x="240" y="297.6" width="8.6" height="9.4" rx="2.2" fill="#000" fill-opacity="1" filter="url(#b05)"/>
<ellipse cx="167" cy="300.5" rx="1.1" ry="0.8" fill="#fff" fill-opacity="0.35" filter="url(#b06)"/>
<ellipse cx="178" cy="303.5" rx="1.1" ry="0.8" fill="#fff" fill-opacity="0.35" filter="url(#b06)"/>
<ellipse cx="188" cy="299.5" rx="1.1" ry="0.8" fill="#fff" fill-opacity="0.35" filter="url(#b06)"/>
<ellipse cx="200" cy="303" rx="1.1" ry="0.8" fill="#fff" fill-opacity="0.35" filter="url(#b06)"/>
<ellipse cx="214" cy="301" rx="1.1" ry="0.8" fill="#fff" fill-opacity="0.35" filter="url(#b06)"/>
<ellipse cx="233" cy="304" rx="1.1" ry="0.8" fill="#fff" fill-opacity="0.35" filter="url(#b06)"/>
<ellipse cx="245" cy="300" rx="1.1" ry="0.8" fill="#fff" fill-opacity="0.35" filter="url(#b06)"/>
<text x="286.4" y="198.2" font-size="16" font-weight="bold" font-family='"Liberation Sans", sans-serif' textLength="12.2" lengthAdjust="spacingAndGlyphs">G</text>
<line x1="287.3" y1="223.8" x2="287.3" y2="313.5" stroke="#000" stroke-width="1.3"/>
<line x1="285.3" y1="313.5" x2="287.3" y2="313.5" stroke="#000" stroke-width="1.1"/>
<text x="282.3" y="317.13" font-size="8.3" font-weight="bold" text-anchor="end" textLength="4.65" lengthAdjust="spacingAndGlyphs">0</text>
<line x1="285.3" y1="295.56" x2="287.3" y2="295.56" stroke="#000" stroke-width="1.1"/>
<text x="283.2" y="299.19" font-size="8.3" font-weight="bold" text-anchor="end" textLength="9.3" lengthAdjust="spacingAndGlyphs">20</text>
<line x1="285.3" y1="277.62" x2="287.3" y2="277.62" stroke="#000" stroke-width="1.1"/>
<text x="283.2" y="281.25" font-size="8.3" font-weight="bold" text-anchor="end" textLength="9.3" lengthAdjust="spacingAndGlyphs">40</text>
<line x1="285.3" y1="259.68" x2="287.3" y2="259.68" stroke="#000" stroke-width="1.1"/>
<text x="283.2" y="263.31" font-size="8.3" font-weight="bold" text-anchor="end" textLength="9.3" lengthAdjust="spacingAndGlyphs">60</text>
<line x1="285.3" y1="241.74" x2="287.3" y2="241.74" stroke="#000" stroke-width="1.1"/>
<text x="283.2" y="245.37" font-size="8.3" font-weight="bold" text-anchor="end" textLength="9.3" lengthAdjust="spacingAndGlyphs">80</text>
<line x1="285.3" y1="223.8" x2="287.3" y2="223.8" stroke="#000" stroke-width="1.1"/>
<text x="284.1" y="227.43" font-size="8.3" font-weight="bold" text-anchor="end" textLength="13.94" lengthAdjust="spacingAndGlyphs">100</text>
<line x1="286.7" y1="313.5" x2="367.3" y2="313.5" stroke="#000" stroke-width="1.2"/>
<line x1="287.3" y1="313.5" x2="287.3" y2="315.7" stroke="#000" stroke-width="1"/>
<line x1="307.3" y1="313.5" x2="307.3" y2="315.7" stroke="#000" stroke-width="1"/>
<line x1="327.3" y1="313.5" x2="327.3" y2="315.7" stroke="#000" stroke-width="1"/>
<line x1="347.3" y1="313.5" x2="347.3" y2="315.7" stroke="#000" stroke-width="1"/>
<line x1="367.3" y1="313.5" x2="367.3" y2="315.7" stroke="#000" stroke-width="1"/>
<text x="268.9" y="267.3" font-size="8.6" font-weight="bold" text-anchor="middle" transform="rotate(-90 268.9 267.3)" textLength="82.1" lengthAdjust="spacingAndGlyphs">% viable CD34+ cells</text>
<rect x="292.8" y="245.06" width="5" height="68.44" fill="#a8a8a8" stroke="#000" stroke-width="0.9"/>
<line x1="295.3" y1="245.06" x2="295.3" y2="242.37" stroke="#000" stroke-width="0.9"/>
<line x1="293.4" y1="242.37" x2="297.2" y2="242.37" stroke="#000" stroke-width="0.9"/>
<rect x="298.4" y="238.33" width="6" height="75.17" fill="url(#hatch)" stroke="#000" stroke-width="0.9"/>
<line x1="301.4" y1="238.33" x2="301.4" y2="235.55" stroke="#000" stroke-width="0.9"/>
<line x1="299.5" y1="235.55" x2="303.3" y2="235.55" stroke="#000" stroke-width="0.9"/>
<rect x="312.8" y="238.33" width="5" height="75.17" fill="#a8a8a8" stroke="#000" stroke-width="0.9"/>
<line x1="315.3" y1="238.33" x2="315.3" y2="236.54" stroke="#000" stroke-width="0.9"/>
<line x1="313.4" y1="236.54" x2="317.2" y2="236.54" stroke="#000" stroke-width="0.9"/>
<rect x="318.4" y="240.66" width="6" height="72.84" fill="url(#hatch)" stroke="#000" stroke-width="0.9"/>
<line x1="321.4" y1="240.66" x2="321.4" y2="238.96" stroke="#000" stroke-width="0.9"/>
<line x1="319.5" y1="238.96" x2="323.3" y2="238.96" stroke="#000" stroke-width="0.9"/>
<rect x="332.8" y="245.06" width="5" height="68.44" fill="#a8a8a8" stroke="#000" stroke-width="0.9"/>
<line x1="335.3" y1="245.06" x2="335.3" y2="242.37" stroke="#000" stroke-width="0.9"/>
<line x1="333.4" y1="242.37" x2="337.2" y2="242.37" stroke="#000" stroke-width="0.9"/>
<rect x="338.4" y="240.04" width="6" height="73.46" fill="url(#hatch)" stroke="#000" stroke-width="0.9"/>
<line x1="341.4" y1="240.04" x2="341.4" y2="237.25" stroke="#000" stroke-width="0.9"/>
<line x1="339.5" y1="237.25" x2="343.3" y2="237.25" stroke="#000" stroke-width="0.9"/>
<rect x="352.8" y="246.31" width="5" height="67.19" fill="#a8a8a8" stroke="#000" stroke-width="0.9"/>
<line x1="355.3" y1="246.31" x2="355.3" y2="243.8" stroke="#000" stroke-width="0.9"/>
<line x1="353.4" y1="243.8" x2="357.2" y2="243.8" stroke="#000" stroke-width="0.9"/>
<rect x="358.4" y="241.38" width="6" height="72.12" fill="url(#hatch)" stroke="#000" stroke-width="0.9"/>
<line x1="361.4" y1="241.38" x2="361.4" y2="238.6" stroke="#000" stroke-width="0.9"/>
<line x1="359.5" y1="238.6" x2="363.3" y2="238.6" stroke="#000" stroke-width="0.9"/>
<text x="301.7" y="317.2" font-size="8.4" font-weight="bold" text-anchor="end" transform="rotate(-90 301.7 317.2)">C</text>
<text x="320" y="317.2" font-size="8.4" font-weight="bold" text-anchor="end" transform="rotate(-90 320 317.2)">P</text>
<text x="343.7" y="319.5" font-size="8.4" font-weight="bold" text-anchor="end" transform="rotate(-90 343.7 319.5)" textLength="10.2" lengthAdjust="spacingAndGlyphs">PD</text>
<text x="365.2" y="319.5" font-size="8.4" font-weight="bold" text-anchor="end" transform="rotate(-90 365.2 319.5)" textLength="18.3" lengthAdjust="spacingAndGlyphs">P/PD</text>
<rect x="303.3" y="200.7" width="53.3" height="28.3" fill="#fff" stroke="#999" stroke-width="0.8"/>
<rect x="305.9" y="205.6" width="7.1" height="4.6" fill="#a8a8a8" stroke="#000" stroke-width="1"/>
<rect x="305.9" y="218.3" width="7.1" height="4.7" fill="url(#hatchd)" stroke="#000" stroke-width="1"/>
<text x="315.8" y="210.8" font-size="8.6" font-weight="bold" textLength="37.3" lengthAdjust="spacingAndGlyphs">Subject#1</text>
<text x="315.8" y="223.9" font-size="8.6" font-weight="bold" textLength="37.3" lengthAdjust="spacingAndGlyphs">Subject#2</text>
<text x="370.8" y="198.3" font-size="16" font-weight="bold" font-family='"Liberation Sans", sans-serif' textLength="11.4" lengthAdjust="spacingAndGlyphs">H</text>
<line x1="399.2" y1="208.6" x2="399.2" y2="293" stroke="#000" stroke-width="1.3"/>
<line x1="397.2" y1="293" x2="399.2" y2="293" stroke="#000" stroke-width="1.1"/>
<text x="394.5" y="297.68" font-size="8.3" font-weight="bold" text-anchor="end" textLength="4.65" lengthAdjust="spacingAndGlyphs">0</text>
<line x1="397.2" y1="278.93" x2="399.2" y2="278.93" stroke="#000" stroke-width="1.1"/>
<text x="395.4" y="283.61" font-size="8.3" font-weight="bold" text-anchor="end" textLength="9.3" lengthAdjust="spacingAndGlyphs">20</text>
<line x1="397.2" y1="264.87" x2="399.2" y2="264.87" stroke="#000" stroke-width="1.1"/>
<text x="395.4" y="269.55" font-size="8.3" font-weight="bold" text-anchor="end" textLength="9.3" lengthAdjust="spacingAndGlyphs">40</text>
<line x1="397.2" y1="250.8" x2="399.2" y2="250.8" stroke="#000" stroke-width="1.1"/>
<text x="395.4" y="255.48" font-size="8.3" font-weight="bold" text-anchor="end" textLength="9.3" lengthAdjust="spacingAndGlyphs">60</text>
<line x1="397.2" y1="236.74" x2="399.2" y2="236.74" stroke="#000" stroke-width="1.1"/>
<text x="395.4" y="241.42" font-size="8.3" font-weight="bold" text-anchor="end" textLength="9.3" lengthAdjust="spacingAndGlyphs">80</text>
<line x1="397.2" y1="222.67" x2="399.2" y2="222.67" stroke="#000" stroke-width="1.1"/>
<text x="396.3" y="227.35" font-size="8.3" font-weight="bold" text-anchor="end" textLength="13.94" lengthAdjust="spacingAndGlyphs">100</text>
<line x1="397.2" y1="208.6" x2="399.2" y2="208.6" stroke="#000" stroke-width="1.1"/>
<text x="396.3" y="213.28" font-size="8.3" font-weight="bold" text-anchor="end" textLength="13.94" lengthAdjust="spacingAndGlyphs">120</text>
<line x1="398.6" y1="293" x2="517" y2="293" stroke="#000" stroke-width="1.2"/>
<line x1="399.2" y1="293" x2="399.2" y2="295.2" stroke="#000" stroke-width="1"/>
<line x1="418.83" y1="293" x2="418.83" y2="295.2" stroke="#000" stroke-width="1"/>
<line x1="438.46" y1="293" x2="438.46" y2="295.2" stroke="#000" stroke-width="1"/>
<line x1="458.09" y1="293" x2="458.09" y2="295.2" stroke="#000" stroke-width="1"/>
<line x1="477.72" y1="293" x2="477.72" y2="295.2" stroke="#000" stroke-width="1"/>
<line x1="497.35" y1="293" x2="497.35" y2="295.2" stroke="#000" stroke-width="1"/>
<line x1="516.98" y1="293" x2="516.98" y2="295.2" stroke="#000" stroke-width="1"/>
<text x="380.1" y="252.4" font-size="8.7" font-weight="bold" text-anchor="middle" transform="rotate(-90 380.1 252.4)" textLength="63.6" lengthAdjust="spacingAndGlyphs">CFU (% control)</text>
<rect x="401" y="222.67" width="4" height="70.33" fill="#fff" stroke="#000" stroke-width="0.8"/>
<line x1="403" y1="222.67" x2="403" y2="219.86" stroke="#000" stroke-width="0.9"/>
<line x1="401.1" y1="219.86" x2="404.9" y2="219.86" stroke="#000" stroke-width="0.9"/>
<rect x="405" y="238.92" width="4" height="54.08" fill="url(#hatch)" stroke="#000" stroke-width="0.8"/>
<line x1="407" y1="238.92" x2="407" y2="237.51" stroke="#000" stroke-width="0.9"/>
<line x1="405.1" y1="237.51" x2="408.9" y2="237.51" stroke="#000" stroke-width="0.9"/>
<rect x="409" y="258.89" width="4" height="34.11" fill="url(#circ)" stroke="#000" stroke-width="0.8"/>
<line x1="411" y1="258.89" x2="411" y2="256.08" stroke="#000" stroke-width="0.9"/>
<line x1="409.1" y1="256.08" x2="412.9" y2="256.08" stroke="#000" stroke-width="0.9"/>
<rect x="413" y="272.6" width="4" height="20.4" fill="#000" stroke="#000" stroke-width="0.8"/>
<line x1="415" y1="272.6" x2="415" y2="270.49" stroke="#000" stroke-width="0.9"/>
<line x1="413.1" y1="270.49" x2="416.9" y2="270.49" stroke="#000" stroke-width="0.9"/>
<rect x="420.63" y="222.67" width="4" height="70.33" fill="#fff" stroke="#000" stroke-width="0.8"/>
<line x1="422.63" y1="222.67" x2="422.63" y2="219.15" stroke="#000" stroke-width="0.9"/>
<line x1="420.73" y1="219.15" x2="424.53" y2="219.15" stroke="#000" stroke-width="0.9"/>
<rect x="424.63" y="233.78" width="4" height="59.22" fill="url(#hatch)" stroke="#000" stroke-width="0.8"/>
<line x1="426.63" y1="233.78" x2="426.63" y2="228.16" stroke="#000" stroke-width="0.9"/>
<line x1="424.73" y1="228.16" x2="428.53" y2="228.16" stroke="#000" stroke-width="0.9"/>
<rect x="428.63" y="253.33" width="4" height="39.67" fill="url(#circ)" stroke="#000" stroke-width="0.8"/>
<line x1="430.63" y1="253.33" x2="430.63" y2="249.11" stroke="#000" stroke-width="0.9"/>
<line x1="428.73" y1="249.11" x2="432.53" y2="249.11" stroke="#000" stroke-width="0.9"/>
<rect x="432.63" y="275.7" width="4" height="17.3" fill="#000" stroke="#000" stroke-width="0.8"/>
<line x1="434.63" y1="275.7" x2="434.63" y2="271.48" stroke="#000" stroke-width="0.9"/>
<line x1="432.73" y1="271.48" x2="436.53" y2="271.48" stroke="#000" stroke-width="0.9"/>
<rect x="440.26" y="222.67" width="4" height="70.33" fill="#fff" stroke="#000" stroke-width="0.8"/>
<line x1="442.26" y1="222.67" x2="442.26" y2="217.04" stroke="#000" stroke-width="0.9"/>
<line x1="440.36" y1="217.04" x2="444.16" y2="217.04" stroke="#000" stroke-width="0.9"/>
<rect x="444.26" y="224.57" width="4" height="68.43" fill="url(#hatch)" stroke="#000" stroke-width="0.8"/>
<line x1="446.26" y1="224.57" x2="446.26" y2="222.46" stroke="#000" stroke-width="0.9"/>
<line x1="444.36" y1="222.46" x2="448.16" y2="222.46" stroke="#000" stroke-width="0.9"/>
<rect x="448.26" y="234.98" width="4" height="58.02" fill="url(#circ)" stroke="#000" stroke-width="0.8"/>
<line x1="450.26" y1="234.98" x2="450.26" y2="232.87" stroke="#000" stroke-width="0.9"/>
<line x1="448.36" y1="232.87" x2="452.16" y2="232.87" stroke="#000" stroke-width="0.9"/>
<rect x="452.26" y="230.12" width="4" height="62.88" fill="#000" stroke="#000" stroke-width="0.8"/>
<line x1="454.26" y1="230.12" x2="454.26" y2="224.5" stroke="#000" stroke-width="0.9"/>
<line x1="452.36" y1="224.5" x2="456.16" y2="224.5" stroke="#000" stroke-width="0.9"/>
<rect x="459.89" y="222.67" width="4" height="70.33" fill="#fff" stroke="#000" stroke-width="0.8"/>
<line x1="461.89" y1="222.67" x2="461.89" y2="217.04" stroke="#000" stroke-width="0.9"/>
<line x1="459.99" y1="217.04" x2="463.79" y2="217.04" stroke="#000" stroke-width="0.9"/>
<rect x="463.89" y="224.57" width="4" height="68.43" fill="url(#hatch)" stroke="#000" stroke-width="0.8"/>
<line x1="465.89" y1="224.57" x2="465.89" y2="221.76" stroke="#000" stroke-width="0.9"/>
<line x1="463.99" y1="221.76" x2="467.79" y2="221.76" stroke="#000" stroke-width="0.9"/>
<rect x="467.89" y="226.19" width="4" height="66.81" fill="url(#circ)" stroke="#000" stroke-width="0.8"/>
<line x1="469.89" y1="226.19" x2="469.89" y2="222.67" stroke="#000" stroke-width="0.9"/>
<line x1="467.99" y1="222.67" x2="471.79" y2="222.67" stroke="#000" stroke-width="0.9"/>
<rect x="471.89" y="226.82" width="4" height="66.18" fill="#000" stroke="#000" stroke-width="0.8"/>
<line x1="473.89" y1="226.82" x2="473.89" y2="219.79" stroke="#000" stroke-width="0.9"/>
<line x1="471.99" y1="219.79" x2="475.79" y2="219.79" stroke="#000" stroke-width="0.9"/>
<rect x="479.52" y="222.67" width="4" height="70.33" fill="#fff" stroke="#000" stroke-width="0.8"/>
<line x1="481.52" y1="222.67" x2="481.52" y2="217.75" stroke="#000" stroke-width="0.9"/>
<line x1="479.62" y1="217.75" x2="483.42" y2="217.75" stroke="#000" stroke-width="0.9"/>
<rect x="483.52" y="226.82" width="4" height="66.18" fill="url(#hatch)" stroke="#000" stroke-width="0.8"/>
<line x1="485.52" y1="226.82" x2="485.52" y2="225.41" stroke="#000" stroke-width="0.9"/>
<line x1="483.62" y1="225.41" x2="487.42" y2="225.41" stroke="#000" stroke-width="0.9"/>
<rect x="487.52" y="241.8" width="4" height="51.2" fill="url(#circ)" stroke="#000" stroke-width="0.8"/>
<line x1="489.52" y1="241.8" x2="489.52" y2="238.99" stroke="#000" stroke-width="0.9"/>
<line x1="487.62" y1="238.99" x2="491.42" y2="238.99" stroke="#000" stroke-width="0.9"/>
<rect x="491.52" y="226.82" width="4" height="66.18" fill="#000" stroke="#000" stroke-width="0.8"/>
<line x1="493.52" y1="226.82" x2="493.52" y2="223.3" stroke="#000" stroke-width="0.9"/>
<line x1="491.62" y1="223.3" x2="495.42" y2="223.3" stroke="#000" stroke-width="0.9"/>
<rect x="499.15" y="222.67" width="4" height="70.33" fill="#fff" stroke="#000" stroke-width="0.8"/>
<line x1="501.15" y1="222.67" x2="501.15" y2="219.15" stroke="#000" stroke-width="0.9"/>
<line x1="499.25" y1="219.15" x2="503.05" y2="219.15" stroke="#000" stroke-width="0.9"/>
<rect x="503.15" y="229.49" width="4" height="63.51" fill="url(#hatch)" stroke="#000" stroke-width="0.8"/>
<line x1="505.15" y1="229.49" x2="505.15" y2="226.68" stroke="#000" stroke-width="0.9"/>
<line x1="503.25" y1="226.68" x2="507.05" y2="226.68" stroke="#000" stroke-width="0.9"/>
<rect x="507.15" y="228.23" width="4" height="64.77" fill="url(#circ)" stroke="#000" stroke-width="0.8"/>
<line x1="509.15" y1="228.23" x2="509.15" y2="224.01" stroke="#000" stroke-width="0.9"/>
<line x1="507.25" y1="224.01" x2="511.05" y2="224.01" stroke="#000" stroke-width="0.9"/>
<rect x="511.15" y="222.67" width="4" height="70.33" fill="#000" stroke="#000" stroke-width="0.8"/>
<line x1="513.15" y1="222.67" x2="513.15" y2="219.86" stroke="#000" stroke-width="0.9"/>
<line x1="511.25" y1="219.86" x2="515.05" y2="219.86" stroke="#000" stroke-width="0.9"/>
<text x="417.1" y="296.9" font-size="8.4" font-weight="bold" text-anchor="end" transform="rotate(-90 417.1 296.9)" textLength="29.6" lengthAdjust="spacingAndGlyphs">AML#2</text>
<text x="435.3" y="296.9" font-size="8.4" font-weight="bold" text-anchor="end" transform="rotate(-90 435.3 296.9)" textLength="29.6" lengthAdjust="spacingAndGlyphs">AML#4</text>
<text x="455.1" y="296.9" font-size="8.4" font-weight="bold" text-anchor="end" transform="rotate(-90 455.1 296.9)" textLength="28.9" lengthAdjust="spacingAndGlyphs">myeloid</text>
<text x="474.8" y="296.9" font-size="8.4" font-weight="bold" text-anchor="end" transform="rotate(-90 474.8 296.9)" textLength="36" lengthAdjust="spacingAndGlyphs">Erythroid</text>
<text x="491.7" y="296.9" font-size="8.4" font-weight="bold" text-anchor="end" transform="rotate(-90 491.7 296.9)" textLength="28.9" lengthAdjust="spacingAndGlyphs">myeloid</text>
<text x="512.8" y="296.9" font-size="8.4" font-weight="bold" text-anchor="end" transform="rotate(-90 512.8 296.9)" textLength="36" lengthAdjust="spacingAndGlyphs">Erythroid</text>
<line x1="447.4" y1="338.4" x2="477.9" y2="338.4" stroke="#000" stroke-width="1.6"/>
<line x1="485.9" y1="338.4" x2="516.4" y2="338.4" stroke="#000" stroke-width="1.6"/>
<text x="441.9" y="348.3" font-size="8" font-weight="bold" textLength="36" lengthAdjust="spacingAndGlyphs">Normal#1</text>
<text x="483.4" y="348.3" font-size="8" font-weight="bold" textLength="36.6" lengthAdjust="spacingAndGlyphs">Normal#2</text>
<rect x="428.6" y="190.9" width="5.4" height="5.1" fill="#fff" stroke="#000" stroke-width="1"/>
<rect x="428.6" y="203.4" width="5.4" height="5.1" fill="url(#hatchd)" stroke="#000" stroke-width="1"/>
<rect x="449.6" y="190.6" width="5.5" height="5.4" fill="url(#circ)" stroke="#000" stroke-width="1"/>
<rect x="449.6" y="203.4" width="5.5" height="5.1" fill="#000" stroke="#000" stroke-width="1"/>
<text x="438" y="196.8" font-size="8.4" font-weight="bold" textLength="5.6" lengthAdjust="spacingAndGlyphs">C</text>
<text x="438" y="209.6" font-size="8.4" font-weight="bold" textLength="4.7" lengthAdjust="spacingAndGlyphs">P</text>
<text x="458.6" y="196.6" font-size="8.4" font-weight="bold" textLength="11.5" lengthAdjust="spacingAndGlyphs">PD</text>
<text x="459.3" y="209.7" font-size="8.4" font-weight="bold" textLength="16" lengthAdjust="spacingAndGlyphs">PPD</text>
</g>
</svg></body></html>
